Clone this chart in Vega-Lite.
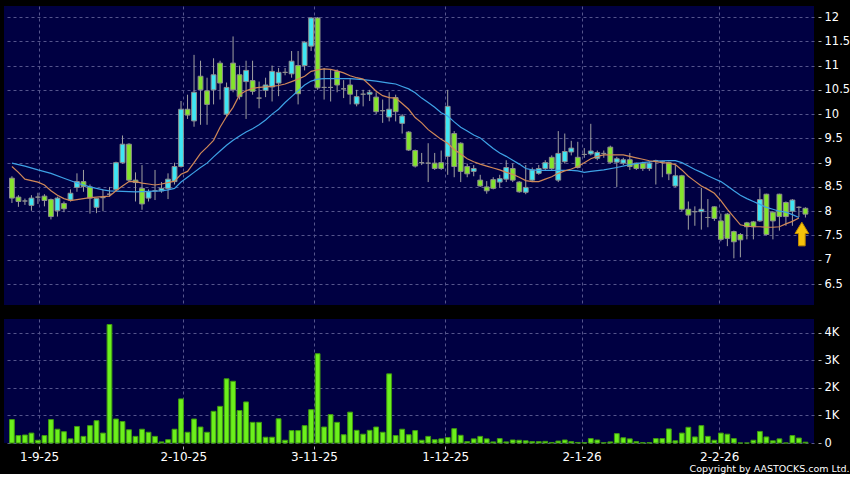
{
  "$schema": "https://vega.github.io/schema/vega-lite/v6.json",
  "background": "#000000",
  "padding": {"left": 4, "top": 6, "right": 0, "bottom": 0},
  "autosize": {"type": "pad"},
  "spacing": 14,
  "title": {"text": "Copyright by AASTOCKS.com Ltd.", "orient": "bottom", "anchor": "end", "font": "DejaVu Sans", "fontSize": 9.5, "fontWeight": "normal", "color": "#ffffff", "offset": 2},
  "datasets": {
    "candles": [
      {"i":0,"o":8.68,"h":8.72,"l":8.17,"c":8.27,"v":850},
      {"i":1,"o":8.29,"h":8.33,"l":8.09,"c":8.20,"v":270},
      {"i":2,"o":8.21,"h":8.26,"l":8.13,"c":8.21,"v":290},
      {"i":3,"o":8.12,"h":8.33,"l":8.01,"c":8.27,"v":360},
      {"i":4,"o":8.29,"h":8.38,"l":8.15,"c":8.29,"v":100},
      {"i":5,"o":8.31,"h":8.35,"l":8.10,"c":8.22,"v":270},
      {"i":6,"o":8.24,"h":8.26,"l":7.83,"c":7.89,"v":850},
      {"i":7,"o":8.01,"h":8.30,"l":7.89,"c":8.27,"v":500},
      {"i":8,"o":8.16,"h":8.20,"l":7.98,"c":8.05,"v":410},
      {"i":9,"o":8.23,"h":8.45,"l":8.20,"c":8.37,"v":150},
      {"i":10,"o":8.49,"h":8.78,"l":8.40,"c":8.61,"v":600},
      {"i":11,"o":8.61,"h":8.85,"l":8.40,"c":8.51,"v":240},
      {"i":12,"o":8.50,"h":8.55,"l":7.95,"c":8.27,"v":630},
      {"i":13,"o":8.08,"h":8.27,"l":7.96,"c":8.26,"v":810},
      {"i":14,"o":8.28,"h":8.45,"l":8.00,"c":8.28,"v":360},
      {"i":15,"o":8.35,"h":8.50,"l":8.30,"c":8.35,"v":4300},
      {"i":16,"o":8.45,"h":9.02,"l":8.42,"c":9.00,"v":870},
      {"i":17,"o":9.00,"h":9.56,"l":8.98,"c":9.38,"v":780},
      {"i":18,"o":9.38,"h":9.40,"l":8.60,"c":8.64,"v":480},
      {"i":19,"o":8.64,"h":8.80,"l":8.20,"c":8.59,"v":240},
      {"i":20,"o":8.47,"h":8.95,"l":8.03,"c":8.15,"v":500},
      {"i":21,"o":8.27,"h":8.45,"l":8.20,"c":8.40,"v":390},
      {"i":22,"o":8.42,"h":8.85,"l":8.23,"c":8.42,"v":240},
      {"i":23,"o":8.42,"h":8.60,"l":8.38,"c":8.47,"v":40},
      {"i":24,"o":8.47,"h":8.78,"l":8.25,"c":8.66,"v":120},
      {"i":25,"o":8.61,"h":9.00,"l":8.55,"c":8.92,"v":500},
      {"i":26,"o":8.92,"h":10.27,"l":8.90,"c":10.10,"v":1600},
      {"i":27,"o":10.10,"h":10.40,"l":9.90,"c":9.98,"v":390},
      {"i":28,"o":9.86,"h":11.22,"l":9.74,"c":10.45,"v":870},
      {"i":29,"o":10.78,"h":11.10,"l":9.78,"c":10.50,"v":580},
      {"i":30,"o":10.48,"h":10.75,"l":9.78,"c":10.20,"v":390},
      {"i":31,"o":10.50,"h":11.15,"l":10.20,"c":10.81,"v":1150},
      {"i":32,"o":11.05,"h":11.10,"l":10.30,"c":10.64,"v":1330},
      {"i":33,"o":10.00,"h":10.65,"l":9.95,"c":10.55,"v":2330},
      {"i":34,"o":11.05,"h":11.60,"l":10.45,"c":10.50,"v":2240},
      {"i":35,"o":10.81,"h":11.00,"l":10.30,"c":10.36,"v":1180},
      {"i":36,"o":10.67,"h":11.10,"l":9.90,"c":10.90,"v":1490},
      {"i":37,"o":10.69,"h":11.10,"l":10.40,"c":10.47,"v":750},
      {"i":38,"o":10.33,"h":10.67,"l":10.12,"c":10.33,"v":750},
      {"i":39,"o":10.49,"h":10.75,"l":10.35,"c":10.60,"v":210},
      {"i":40,"o":10.56,"h":11.00,"l":10.26,"c":10.88,"v":210},
      {"i":41,"o":10.64,"h":10.95,"l":10.37,"c":10.86,"v":880},
      {"i":42,"o":10.86,"h":10.95,"l":10.80,"c":10.86,"v":100},
      {"i":43,"o":10.83,"h":11.30,"l":10.75,"c":11.09,"v":450},
      {"i":44,"o":11.00,"h":11.30,"l":10.20,"c":10.42,"v":450},
      {"i":45,"o":11.00,"h":11.50,"l":10.90,"c":11.48,"v":630},
      {"i":46,"o":11.40,"h":12.00,"l":11.30,"c":11.98,"v":1210},
      {"i":47,"o":11.98,"h":12.00,"l":10.50,"c":10.54,"v":3240},
      {"i":48,"o":10.55,"h":10.95,"l":10.30,"c":10.55,"v":580},
      {"i":49,"o":10.55,"h":10.92,"l":10.26,"c":10.55,"v":1030},
      {"i":50,"o":10.88,"h":10.92,"l":10.45,"c":10.60,"v":750},
      {"i":51,"o":10.52,"h":10.70,"l":10.33,"c":10.52,"v":300},
      {"i":52,"o":10.60,"h":10.72,"l":10.20,"c":10.41,"v":1120},
      {"i":53,"o":10.21,"h":10.50,"l":10.16,"c":10.36,"v":460},
      {"i":54,"o":10.41,"h":10.50,"l":10.16,"c":10.41,"v":320},
      {"i":55,"o":10.41,"h":10.50,"l":10.27,"c":10.45,"v":460},
      {"i":56,"o":10.35,"h":10.45,"l":10.00,"c":10.05,"v":580},
      {"i":57,"o":10.07,"h":10.30,"l":9.82,"c":10.07,"v":390},
      {"i":58,"o":9.94,"h":10.45,"l":9.85,"c":10.10,"v":2510},
      {"i":59,"o":10.34,"h":10.40,"l":9.85,"c":10.05,"v":270},
      {"i":60,"o":9.81,"h":10.00,"l":9.60,"c":9.96,"v":500},
      {"i":61,"o":9.63,"h":9.65,"l":9.24,"c":9.26,"v":300},
      {"i":62,"o":9.25,"h":9.27,"l":8.90,"c":8.93,"v":450},
      {"i":63,"o":9.00,"h":9.20,"l":8.95,"c":9.00,"v":100},
      {"i":64,"o":8.99,"h":9.40,"l":8.60,"c":8.99,"v":240},
      {"i":65,"o":8.99,"h":9.20,"l":8.85,"c":8.88,"v":120},
      {"i":66,"o":9.00,"h":9.25,"l":8.85,"c":8.88,"v":150},
      {"i":67,"o":9.13,"h":10.50,"l":8.75,"c":10.16,"v":200},
      {"i":68,"o":9.60,"h":9.65,"l":8.70,"c":8.92,"v":520},
      {"i":69,"o":9.40,"h":9.42,"l":8.60,"c":8.82,"v":280},
      {"i":70,"o":8.92,"h":8.98,"l":8.70,"c":8.77,"v":50},
      {"i":71,"o":8.82,"h":8.95,"l":8.72,"c":8.88,"v":150},
      {"i":72,"o":8.64,"h":8.75,"l":8.50,"c":8.52,"v":240},
      {"i":73,"o":8.50,"h":8.62,"l":8.36,"c":8.42,"v":150},
      {"i":74,"o":8.65,"h":8.70,"l":8.45,"c":8.47,"v":40},
      {"i":75,"o":8.60,"h":8.75,"l":8.48,"c":8.67,"v":160},
      {"i":76,"o":8.66,"h":9.05,"l":8.60,"c":8.90,"v":40},
      {"i":77,"o":8.88,"h":8.98,"l":8.60,"c":8.64,"v":110},
      {"i":78,"o":8.60,"h":8.62,"l":8.38,"c":8.40,"v":100},
      {"i":79,"o":8.39,"h":8.95,"l":8.35,"c":8.49,"v":80},
      {"i":80,"o":8.64,"h":8.90,"l":8.60,"c":8.85,"v":50},
      {"i":81,"o":8.78,"h":8.95,"l":8.75,"c":8.88,"v":50},
      {"i":82,"o":8.88,"h":9.05,"l":8.85,"c":9.00,"v":60},
      {"i":83,"o":9.11,"h":9.15,"l":8.85,"c":8.88,"v":20},
      {"i":84,"o":8.64,"h":9.65,"l":8.60,"c":9.19,"v":70},
      {"i":85,"o":9.02,"h":9.60,"l":8.98,"c":9.23,"v":110},
      {"i":86,"o":9.22,"h":9.45,"l":9.15,"c":9.30,"v":50},
      {"i":87,"o":9.11,"h":9.43,"l":8.88,"c":8.90,"v":20},
      {"i":88,"o":9.17,"h":9.30,"l":9.10,"c":9.17,"v":10},
      {"i":89,"o":9.18,"h":9.80,"l":9.15,"c":9.24,"v":160},
      {"i":90,"o":9.09,"h":9.25,"l":9.05,"c":9.21,"v":110},
      {"i":91,"o":9.19,"h":9.25,"l":9.10,"c":9.19,"v":10},
      {"i":92,"o":9.32,"h":9.35,"l":8.98,"c":9.01,"v":40},
      {"i":93,"o":9.01,"h":9.12,"l":8.50,"c":9.08,"v":340},
      {"i":94,"o":8.99,"h":9.10,"l":8.95,"c":9.06,"v":190},
      {"i":95,"o":9.06,"h":9.20,"l":8.85,"c":8.92,"v":150},
      {"i":96,"o":8.99,"h":9.00,"l":8.85,"c":8.88,"v":50},
      {"i":97,"o":8.99,"h":9.02,"l":8.83,"c":8.88,"v":10},
      {"i":98,"o":8.88,"h":9.02,"l":8.83,"c":8.99,"v":10},
      {"i":99,"o":9.04,"h":9.06,"l":8.55,"c":9.04,"v":160},
      {"i":100,"o":9.02,"h":9.04,"l":8.70,"c":9.02,"v":160},
      {"i":101,"o":9.00,"h":9.02,"l":8.64,"c":8.77,"v":510},
      {"i":102,"o":8.52,"h":8.95,"l":8.50,"c":8.73,"v":80},
      {"i":103,"o":8.73,"h":8.75,"l":8.00,"c":8.04,"v":360},
      {"i":104,"o":8.04,"h":8.20,"l":7.62,"c":7.92,"v":570},
      {"i":105,"o":7.99,"h":8.10,"l":7.70,"c":7.99,"v":220},
      {"i":106,"o":7.99,"h":8.48,"l":7.62,"c":8.04,"v":630},
      {"i":107,"o":7.87,"h":8.25,"l":7.67,"c":7.87,"v":240},
      {"i":108,"o":8.09,"h":8.10,"l":7.80,"c":7.85,"v":100},
      {"i":109,"o":7.80,"h":7.95,"l":7.38,"c":7.42,"v":360},
      {"i":110,"o":7.94,"h":7.96,"l":7.28,"c":7.44,"v":320},
      {"i":111,"o":7.58,"h":7.60,"l":7.03,"c":7.37,"v":160},
      {"i":112,"o":7.52,"h":7.55,"l":7.05,"c":7.41,"v":0},
      {"i":113,"o":7.76,"h":7.78,"l":7.42,"c":7.68,"v":0},
      {"i":114,"o":7.78,"h":7.80,"l":7.42,"c":7.68,"v":100},
      {"i":115,"o":7.80,"h":8.47,"l":7.78,"c":8.24,"v":420},
      {"i":116,"o":8.35,"h":8.36,"l":7.50,"c":7.52,"v":220},
      {"i":117,"o":7.98,"h":8.00,"l":7.42,"c":7.80,"v":80},
      {"i":118,"o":8.35,"h":8.36,"l":7.60,"c":7.89,"v":150},
      {"i":119,"o":8.18,"h":8.20,"l":7.70,"c":7.89,"v":0},
      {"i":120,"o":8.00,"h":8.25,"l":7.70,"c":8.23,"v":270},
      {"i":121,"o":8.08,"h":8.10,"l":7.88,"c":8.08,"v":180},
      {"i":122,"o":8.06,"h":8.08,"l":7.87,"c":7.94,"v":30}
    ],
    "ma10": [
      {"i":0,"p":8.92},{"i":1,"p":8.80},{"i":2,"p":8.66},{"i":4,"p":8.60},{"i":5,"p":8.54},{"i":6,"p":8.42},{"i":7,"p":8.33},{"i":8,"p":8.26},{"i":9,"p":8.22},{"i":10,"p":8.24},{"i":12,"p":8.28},{"i":14,"p":8.30},{"i":15,"p":8.31},{"i":16,"p":8.42},{"i":17,"p":8.52},{"i":18,"p":8.61},{"i":19,"p":8.61},{"i":20,"p":8.58},{"i":21,"p":8.56},{"i":22,"p":8.54},{"i":23,"p":8.56},{"i":24,"p":8.59},{"i":25,"p":8.62},{"i":26,"p":8.76},{"i":27,"p":8.82},{"i":28,"p":9.0},{"i":29,"p":9.19},{"i":30,"p":9.32},{"i":31,"p":9.46},{"i":32,"p":9.73},{"i":33,"p":9.95},{"i":34,"p":10.14},{"i":35,"p":10.4},{"i":36,"p":10.48},{"i":37,"p":10.53},{"i":38,"p":10.55},{"i":39,"p":10.56},{"i":40,"p":10.57},{"i":41,"p":10.59},{"i":42,"p":10.62},{"i":43,"p":10.67},{"i":44,"p":10.72},{"i":45,"p":10.78},{"i":46,"p":10.88},{"i":47,"p":10.91},{"i":48,"p":10.93},{"i":49,"p":10.92},{"i":50,"p":10.89},{"i":51,"p":10.85},{"i":52,"p":10.79},{"i":53,"p":10.75},{"i":54,"p":10.72},{"i":55,"p":10.6},{"i":56,"p":10.47},{"i":57,"p":10.38},{"i":58,"p":10.34},{"i":59,"p":10.33},{"i":60,"p":10.22},{"i":61,"p":10.1},{"i":62,"p":9.93},{"i":63,"p":9.82},{"i":64,"p":9.68},{"i":65,"p":9.58},{"i":66,"p":9.48},{"i":67,"p":9.4},{"i":68,"p":9.27},{"i":69,"p":9.18},{"i":70,"p":9.08},{"i":71,"p":9.02},{"i":72,"p":8.97},{"i":73,"p":8.93},{"i":74,"p":8.89},{"i":75,"p":8.85},{"i":76,"p":8.8},{"i":77,"p":8.76},{"i":78,"p":8.7},{"i":79,"p":8.63},{"i":80,"p":8.61},{"i":81,"p":8.61},{"i":82,"p":8.66},{"i":83,"p":8.71},{"i":84,"p":8.78},{"i":85,"p":8.83},{"i":86,"p":8.87},{"i":87,"p":8.92},{"i":88,"p":9.0},{"i":89,"p":9.08},{"i":90,"p":9.13},{"i":91,"p":9.16},{"i":92,"p":9.16},{"i":93,"p":9.16},{"i":94,"p":9.16},{"i":95,"p":9.13},{"i":96,"p":9.1},{"i":97,"p":9.07},{"i":98,"p":9.04},{"i":99,"p":9.02},{"i":100,"p":9.0},{"i":101,"p":8.99},{"i":102,"p":8.96},{"i":103,"p":8.85},{"i":104,"p":8.72},{"i":105,"p":8.62},{"i":106,"p":8.52},{"i":107,"p":8.45},{"i":108,"p":8.37},{"i":109,"p":8.22},{"i":110,"p":8.04},{"i":111,"p":7.88},{"i":112,"p":7.72},{"i":113,"p":7.69},{"i":114,"p":7.68},{"i":115,"p":7.68},{"i":116,"p":7.67},{"i":117,"p":7.67},{"i":118,"p":7.68},{"i":119,"p":7.74},{"i":120,"p":7.79},{"i":121,"p":7.86}
    ],
    "ma20": [
      {"i":0,"p":8.99},{"i":2,"p":8.93},{"i":4,"p":8.85},{"i":6,"p":8.78},{"i":8,"p":8.68},{"i":10,"p":8.58},{"i":12,"p":8.50},{"i":14,"p":8.44},{"i":15,"p":8.42},{"i":17,"p":8.41},{"i":19,"p":8.40},{"i":21,"p":8.41},{"i":23,"p":8.42},{"i":24,"p":8.44},{"i":25,"p":8.47},{"i":26,"p":8.6},{"i":27,"p":8.7},{"i":28,"p":8.8},{"i":29,"p":8.9},{"i":30,"p":8.99},{"i":31,"p":9.12},{"i":32,"p":9.24},{"i":33,"p":9.36},{"i":34,"p":9.46},{"i":35,"p":9.55},{"i":36,"p":9.63},{"i":37,"p":9.7},{"i":38,"p":9.78},{"i":39,"p":9.88},{"i":40,"p":10.0},{"i":41,"p":10.1},{"i":42,"p":10.24},{"i":43,"p":10.36},{"i":44,"p":10.48},{"i":45,"p":10.6},{"i":46,"p":10.68},{"i":47,"p":10.72},{"i":48,"p":10.73},{"i":50,"p":10.73},{"i":52,"p":10.73},{"i":54,"p":10.71},{"i":56,"p":10.68},{"i":58,"p":10.64},{"i":59,"p":10.62},{"i":60,"p":10.57},{"i":61,"p":10.52},{"i":62,"p":10.44},{"i":63,"p":10.33},{"i":64,"p":10.24},{"i":65,"p":10.14},{"i":66,"p":10.03},{"i":67,"p":9.96},{"i":68,"p":9.84},{"i":69,"p":9.73},{"i":70,"p":9.65},{"i":71,"p":9.57},{"i":72,"p":9.51},{"i":73,"p":9.4},{"i":74,"p":9.29},{"i":75,"p":9.2},{"i":76,"p":9.13},{"i":77,"p":9.05},{"i":78,"p":8.97},{"i":79,"p":8.88},{"i":80,"p":8.85},{"i":81,"p":8.84},{"i":82,"p":8.84},{"i":84,"p":8.84},{"i":86,"p":8.84},{"i":87,"p":8.83},{"i":88,"p":8.8},{"i":89,"p":8.82},{"i":91,"p":8.85},{"i":93,"p":8.9},{"i":95,"p":8.96},{"i":97,"p":9.0},{"i":99,"p":9.03},{"i":101,"p":9.04},{"i":102,"p":9.04},{"i":103,"p":9.0},{"i":104,"p":8.93},{"i":105,"p":8.86},{"i":106,"p":8.8},{"i":107,"p":8.73},{"i":108,"p":8.67},{"i":109,"p":8.61},{"i":110,"p":8.52},{"i":111,"p":8.42},{"i":112,"p":8.33},{"i":113,"p":8.26},{"i":114,"p":8.2},{"i":115,"p":8.14},{"i":116,"p":8.08},{"i":117,"p":8.04},{"i":118,"p":8.0},{"i":119,"p":7.98},{"i":120,"p":7.93},{"i":121,"p":7.87}
    ],
    "arrow": [{"i":121.45,"p":7.53}]
  },
  "vconcat": [
    {
      "width": 810,
      "height": 299,
      "encoding": {
        "x": {"field": "i", "type": "quantitative", "scale": {"domain": [-0.45, 122.55], "nice": false, "zero": false},
              "axis": {"values": [4.18, 26.35, 46.45, 66.63, 87.58, 108.74], "labels": false, "ticks": false, "domain": false, "grid": true, "title": null}}
      },
      "layer": [
        {
          "data": {"name": "candles"},
          "mark": {"type": "rule", "color": "#a0a0a0", "strokeWidth": 1},
          "encoding": {
            "y": {"field": "l", "type": "quantitative", "scale": {"domain": [6.068, 12.227], "nice": false, "zero": false},
                  "axis": {"orient": "right", "values": [6.5,7,7.5,8,8.5,9,9.5,10,10.5,11,11.5,12], "labelExpr": "'' + datum.value", "labelOverlap": false, "labelFontSize": 11.5, "grid": true, "offset": 4, "tickSize": 3, "labelPadding": 3, "title": null}},
            "y2": {"field": "h"}
          }
        },
        {
          "data": {"name": "candles"},
          "mark": {"type": "bar", "width": 4.8, "stroke": "#8e8e8e", "strokeWidth": 1},
          "encoding": {
            "y": {"field": "o", "type": "quantitative", "axis": {"orient": "right", "values": [6.5,7,7.5,8,8.5,9,9.5,10,10.5,11,11.5,12], "labelExpr": "'' + datum.value", "labelOverlap": false, "labelFontSize": 11.5, "grid": true, "offset": 4, "tickSize": 3, "labelPadding": 3, "title": null}},
            "y2": {"field": "c"},
            "fill": {"condition": {"test": "datum.c > datum.o", "value": "#3ee6f4"}, "value": "#84e42c"}
          }
        },
        {
          "data": {"name": "ma20"},
          "mark": {"type": "line", "color": "#3ea2e6", "strokeWidth": 1.2},
          "encoding": {"y": {"field": "p", "type": "quantitative", "axis": {"orient": "right", "values": [6.5,7,7.5,8,8.5,9,9.5,10,10.5,11,11.5,12], "labelExpr": "'' + datum.value", "labelOverlap": false, "labelFontSize": 11.5, "grid": true, "offset": 4, "tickSize": 3, "labelPadding": 3, "title": null}}}
        },
        {
          "data": {"name": "ma10"},
          "mark": {"type": "line", "color": "#d08858", "strokeWidth": 1.2},
          "encoding": {"y": {"field": "p", "type": "quantitative", "axis": {"orient": "right", "values": [6.5,7,7.5,8,8.5,9,9.5,10,10.5,11,11.5,12], "labelExpr": "'' + datum.value", "labelOverlap": false, "labelFontSize": 11.5, "grid": true, "offset": 4, "tickSize": 3, "labelPadding": 3, "title": null}}}
        },
        {
          "data": {"name": "arrow"},
          "mark": {"type": "point", "shape": "M-0.28,1 L0.28,1 L0.28,-0.04 L0.58,-0.04 L0,-1 L-0.58,-0.04 L-0.28,-0.04 Z", "size": 560, "filled": true, "fill": "#f6c20a", "stroke": "#c08a00", "strokeWidth": 1, "opacity": 1},
          "encoding": {"y": {"field": "p", "type": "quantitative", "axis": {"orient": "right", "values": [6.5,7,7.5,8,8.5,9,9.5,10,10.5,11,11.5,12], "labelExpr": "'' + datum.value", "labelOverlap": false, "labelFontSize": 11.5, "grid": true, "offset": 4, "tickSize": 3, "labelPadding": 3, "title": null}}}
        }
      ]
    },
    {
      "width": 810,
      "height": 124,
      "data": {"name": "candles"},
      "mark": {"type": "bar", "width": 4.8, "fill": "#6cf01c", "stroke": "#3f9a10", "strokeWidth": 1},
      "encoding": {
        "x": {"field": "i", "type": "quantitative", "scale": {"domain": [-0.45, 122.55], "nice": false, "zero": false},
              "axis": {"values": [4.18, 26.35, 46.45, 66.63, 87.58, 108.74], "grid": true, "domain": false, "offset": 3, "tickSize": 3, "labelPadding": 2, "labelFlush": false, "labelOverlap": false, "title": null,
                       "labelExpr": "datum.value < 10 ? '1-9-25' : datum.value < 30 ? '2-10-25' : datum.value < 50 ? '3-11-25' : datum.value < 70 ? '1-12-25' : datum.value < 95 ? '2-1-26' : '2-2-26'"}},
        "y": {"field": "v", "type": "quantitative", "scale": {"domain": [0, 4500], "nice": false},
              "axis": {"orient": "right", "values": [0, 1000, 2000, 3000, 4000], "labelExpr": "datum.value == 0 ? '0' : (datum.value / 1000) + 'K'", "labelOverlap": false, "labelFontSize": 11.5, "grid": true, "offset": 4, "tickSize": 3, "labelPadding": 3, "title": null}}
      }
    }
  ],
  "config": {
    "view": {"fill": "#000042", "stroke": null},
    "axis": {"gridColor": "#55558c", "gridDash": [3, 3], "gridWidth": 1, "gridOpacity": 1, "domain": false, "labelOverlap": false, "tickColor": "#b0b0b0", "tickWidth": 1, "labelColor": "#ffffff", "labelFont": "DejaVu Sans", "labelFontSize": 12}
  }
}
